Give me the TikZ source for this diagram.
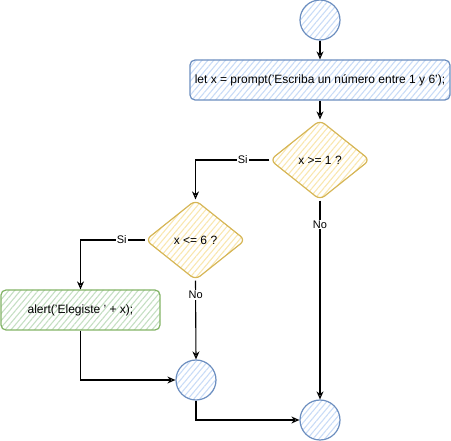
\documentclass[tikz,border=0pt]{standalone}
\usepackage{fontspec}
\setmainfont{Liberation Sans}
\usetikzlibrary{shapes.geometric,arrows.meta,patterns.meta}
\definecolor{bluefill}{HTML}{C9DCF7}
\definecolor{bluestroke}{HTML}{6C8EBF}
\definecolor{yellowfill}{HTML}{F9E7B0}
\definecolor{yellowstroke}{HTML}{D6B656}
\definecolor{greenfill}{HTML}{C5DFC3}
\definecolor{greenstroke}{HTML}{82B366}
\tikzset{
  hatch/.style={pattern={Lines[angle=50,distance=4.5pt,line width=1.1pt]},pattern color=#1},
  bluecircle/.style={circle,draw=bluestroke,line width=1.2pt,hatch=bluefill,minimum size=40pt,inner sep=0pt},
  bluebox/.style={rectangle,rounded corners=5pt,draw=bluestroke,line width=1.2pt,hatch=bluefill,minimum width=260pt,minimum height=40pt,inner sep=0pt,font=\fontsize{12}{14}\selectfont},
  greenbox/.style={rectangle,rounded corners=5pt,draw=greenstroke,line width=1.2pt,hatch=greenfill,minimum width=159pt,minimum height=40pt,inner sep=0pt,font=\fontsize{12}{14}\selectfont},
  decision/.style={diamond,rounded corners=6pt,draw=yellowstroke,line width=1.2pt,hatch=yellowfill,minimum width=100pt,minimum height=80pt,inner sep=0pt,font=\fontsize{12}{14}\selectfont},
  flow/.style={draw=black,line width=1.1pt,-{Stealth[length=8pt,width=7pt,open]}},
  elabel/.style={fill=white,inner sep=1pt,font=\fontsize{11}{13}\selectfont}
}
\begin{document}
\begin{tikzpicture}[x=1pt,y=-1pt]
\useasboundingbox (0,0) rectangle (451,441);
\node[bluecircle] (start) at (320,20) {};
\node[bluebox] (prompt) at (320,80) {let x = prompt('Escriba un número entre 1 y 6');};
\node[decision] (d1) at (320,160) {x >= 1 ?};
\node[decision] (d2) at (195.5,240) {x <= 6 ?};
\node[greenbox] (alert) at (80.5,310) {alert('Elegiste ' + x);};
\node[bluecircle] (merge) at (196,380) {};
\node[bluecircle] (end) at (320,420) {};

\draw[flow] (start) -- (prompt);
\draw[flow] (prompt) -- (d1);
\draw[flow] (d1.west) -| node[elabel,pos=0.18] {Si} (d2.north);
\draw[flow] (d1.south) -- node[elabel,pos=0.12] {No} (end.north);
\draw[flow] (d2.west) -| node[elabel,pos=0.18] {Si} (alert.north);
\draw[flow] (d2.south) -- node[elabel,pos=0.18] {No} (merge.north);
\draw[flow] (alert.south) |- (merge.west);
\draw[flow] (merge.south) |- (end.west);
\end{tikzpicture}
\end{document}
